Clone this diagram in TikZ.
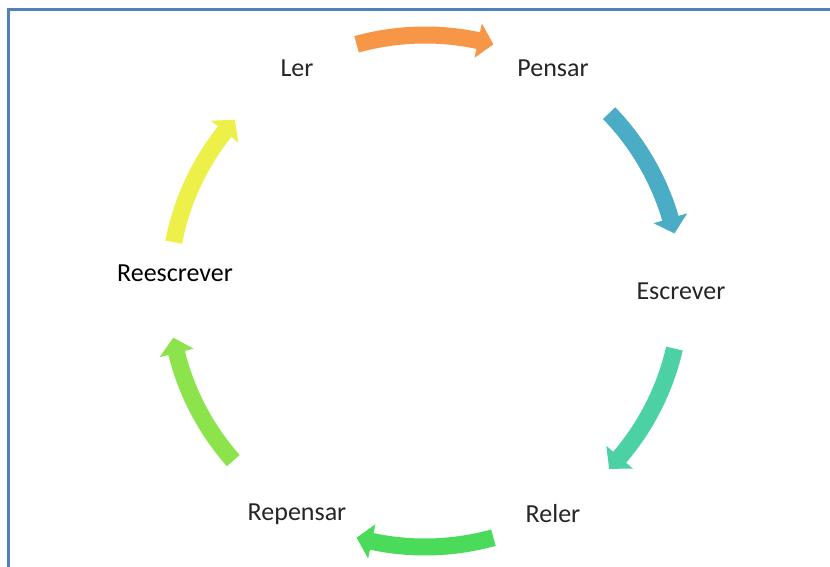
\documentclass[tikz,border=0pt]{standalone}
\usepackage{fontspec}
\setmainfont{Carlito}
\definecolor{frameblue}{HTML}{4F81BD}
\definecolor{corange}{HTML}{F79646}
\definecolor{cblue}{HTML}{4BACC6}
\definecolor{cteal}{HTML}{4BD1A4}
\definecolor{cgreen}{HTML}{4BDB5B}
\definecolor{clgreen}{HTML}{8DE34B}
\definecolor{cyellow}{HTML}{EEF04A}
\definecolor{labelgray}{HTML}{262626}
\newcommand{\cycarrow}[2]{%
  \pgfmathsetmacro{\ta}{#2+15.5}%
  \pgfmathsetmacro{\hb}{#2-12}%
  \pgfmathsetmacro{\tp}{#2-15.5}%
  \fill[#1] (\ta:264.5) arc[start angle=\ta, end angle=\hb, radius=264.5]
    -- (\hb:273.5) -- (\tp:256) -- (\hb:238.5) -- (\hb:247.5)
    arc[start angle=\hb, end angle=\ta, radius=247.5] -- cycle;}
\tikzset{lbl/.style={font=\fontsize{26}{30}\selectfont, text=labelgray, inner sep=0pt}}
\begin{document}
\begin{tikzpicture}[x=1pt,y=1pt]
\useasboundingbox (-425,-276) rectangle (405,291);
\fill[white] (-425,-276) rectangle (405,291);
\draw[frameblue, line width=3pt] (-416,-280) -- (-416,281) -- (410,281);
\cycarrow{corange}{90}
\cycarrow{cblue}{28.5}
\cycarrow{cteal}{-28.5}
\cycarrow{cgreen}{-90}
\cycarrow{clgreen}{206}
\cycarrow{cyellow}{153.5}
\node[lbl] (ler) at (-128,223) {Ler};
\node[lbl] (pensar) at (128,223) {Pensar};
\node[lbl] (escrever) at (256,0) {Escrever};
\node[lbl] (reler) at (128,-223) {Reler};
\node[lbl] (repensar) at (-128,-223) {Repensar};
\node[lbl, text=black] (reescrever) at (-250,18) {Reescrever};
\end{tikzpicture}
\end{document}
